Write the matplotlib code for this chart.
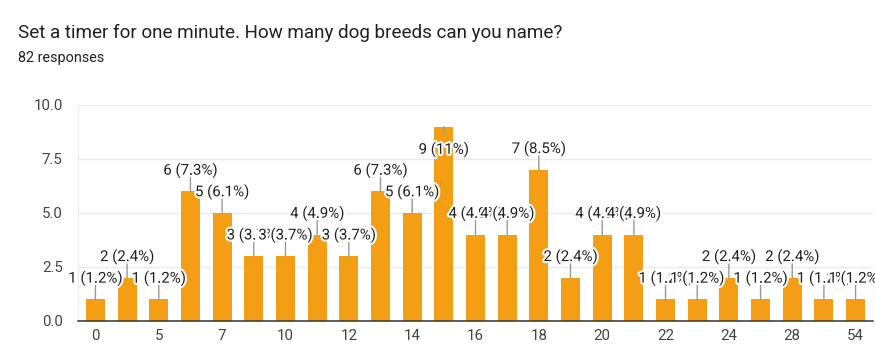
import numpy as np
import matplotlib.pyplot as plt
import matplotlib.patheffects as pe

plt.rcParams['font.family'] = ['Roboto', 'DejaVu Sans']

# answers (number of breeds named) and how many people gave each
answers = ['0', '3', '5', '6', '7', '8', '10', '11', '12', '13', '14', '15', '16',
           '17', '18', '19', '20', '21', '22', '23', '24', '25', '28', '30', '54']
counts = [1, 2, 1, 6, 5, 3, 3, 4, 3, 6, 5, 9, 4, 4, 7, 2, 4, 4, 1, 1, 2, 1, 2, 1, 1]
total = 82
title = 'Set a timer for one minute. How many dog breeds can you name?'
subtitle = '82 responses'

W, H = 875, 347
fig = plt.figure(figsize=(W / 100, H / 100), dpi=100)
ax = fig.add_axes([78 / W, (H - 321) / H, (873 - 78) / W, (321 - 105) / H])

x = np.arange(len(counts))
ax.bar(x, counts, width=0.6, color='#F39E15', zorder=2)

ax.set_xlim(-0.55, len(counts) - 0.45)
ax.set_ylim(0, 10)
ax.set_yticks([0, 2.5, 5, 7.5, 10])
ax.set_yticklabels(['0.0', '2.5', '5.0', '7.5', '10.0'])
ax.set_xticks(x[::2])
ax.set_xticklabels(answers[::2])
ax.tick_params(length=0, labelsize=10.8, colors='#444444')
ax.tick_params(axis='y', pad=11)
ax.tick_params(axis='x', pad=6)
ax.grid(axis='y', color='#ebebeb', lw=1, zorder=0)
for s in ['right', 'top']:
    ax.spines[s].set_visible(False)
ax.spines['left'].set_color('#ebebeb')
ax.spines['bottom'].set_color('#333333')
ax.spines['bottom'].set_linewidth(1.1)
ax.spines['bottom'].set_zorder(5)

px_per_unit = 216 / 10
halo = [pe.withStroke(linewidth=3, foreground='white')]
for i, c in enumerate(counts):
    pct = c / total * 100
    label = f'{c} ({pct:.0f}%)' if pct >= 10 else f'{c} ({pct:.1f}%)'
    above = c * px_per_unit + 28 <= 216
    line_off = 14 if above else -8
    text_off = 21 if above else -23
    ax.annotate('', xy=(i, c), xytext=(0, line_off), textcoords='offset pixels',
                arrowprops=dict(arrowstyle='-', color='#999999', lw=1,
                                shrinkA=0, shrinkB=0), zorder=3)
    ax.annotate(label, xy=(i, c), xytext=(0, text_off), textcoords='offset pixels',
                ha='center', va='center', fontsize=10.8, color='#222222',
                path_effects=halo, zorder=4 + i * 0.01)

fig.text(18 / W, 1 - 33 / H, title, fontsize=13.6, color='#202124', va='center')
fig.text(18 / W, 1 - 58 / H, subtitle, fontsize=10.4, color='#202124', va='center')

fig.savefig('out.png', dpi=100)
